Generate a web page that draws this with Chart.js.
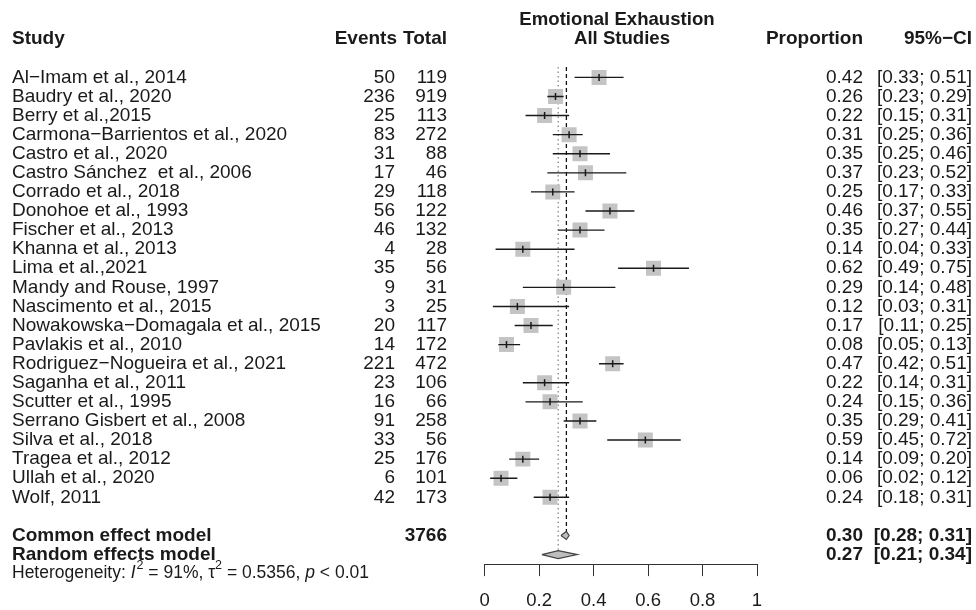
<!DOCTYPE html>
<html>
<head>
<meta charset="utf-8">
<script src="https://cdn.jsdelivr.net/npm/chart.js@4.4.1/dist/chart.umd.min.js"></script>
<style>
  html, body { margin: 0; padding: 0; background: #fff; }
  #wrap { width: 976px; height: 610px; }
</style>
</head>
<body>
<div id="wrap"><canvas id="forest" width="976" height="610"></canvas></div>
<script>
// study rows, top to bottom
var studies = [
    'Al\u2212Imam et al., 2014', 'Baudry et al., 2020', 'Berry et al.,2015',
    'Carmona\u2212Barrientos et al., 2020', 'Castro et al., 2020', 'Castro S\u00e1nchez  et al., 2006',
    'Corrado et al., 2018', 'Donohoe et al., 1993', 'Fischer et al., 2013',
    'Khanna et al., 2013', 'Lima et al.,2021', 'Mandy and Rouse, 1997',
    'Nascimento et al., 2015', 'Nowakowska\u2212Domagala et al., 2015', 'Pavlakis et al., 2010',
    'Rodriguez\u2212Nogueira et al., 2021', 'Saganha et al., 2011', 'Scutter et al., 1995',
    'Serrano Gisbert et al., 2008', 'Silva et al., 2018', 'Tragea et al., 2012',
    'Ullah et al., 2020', 'Wolf, 2011'
];
var events = [50, 236, 25, 83, 31, 17, 29, 56, 46, 4, 35, 9, 3, 20, 14, 221, 23, 16, 91, 33, 25, 6, 42];
var totals = [119, 919, 113, 272, 88, 46, 118, 122, 132, 28, 56, 31, 25, 117, 172, 472, 106, 66, 258, 56, 176, 101, 173];
var props = [0.42, 0.26, 0.22, 0.31, 0.35, 0.37, 0.25, 0.46, 0.35, 0.14, 0.62, 0.29, 0.12, 0.17, 0.08, 0.47, 0.22, 0.24, 0.35, 0.59, 0.14, 0.06, 0.24];
var ciLow = [0.33, 0.23, 0.15, 0.25, 0.25, 0.23, 0.17, 0.37, 0.27, 0.04, 0.49, 0.14, 0.03, 0.11, 0.05, 0.42, 0.14, 0.15, 0.29, 0.45, 0.09, 0.02, 0.18];
var ciHigh = [0.51, 0.29, 0.31, 0.36, 0.46, 0.52, 0.33, 0.55, 0.44, 0.33, 0.75, 0.48, 0.31, 0.25, 0.13, 0.51, 0.31, 0.36, 0.41, 0.72, 0.20, 0.12, 0.31];

// pooled estimates: [estimate, lower, upper]
var commonModel = [0.30, 0.28, 0.31];
var randomModel = [0.27, 0.21, 0.34];
var commonTotal = 3766;
var xTicks = [0, 0.2, 0.4, 0.6, 0.8, 1];
var hetStats = ['91%', '0.5356', '0.01'];

var FONT = "'Liberation Sans', Arial, Helvetica, sans-serif";
var INK = '#1a1a1a';
var FS = 19;
var ROW_COMMON = 24, ROW_RANDOM = 25, ROW_HET = 25.95, ROW_HEAD = -2, ROW_TITLE = -3;

function fmt(v) { return v.toFixed(2); }
function ciText(lo, hi) { return '[' + fmt(lo) + '; ' + fmt(hi) + ']'; }

function diamond(m, row, h) {
    return [
        { x: m[1], y: row }, { x: m[0], y: row - h },
        { x: m[2], y: row }, { x: m[0], y: row + h }, { x: m[1], y: row }
    ];
}

var ciSegments = [];
studies.forEach(function(s, i) {
    ciSegments.push({ x: ciLow[i], y: i }, { x: ciHigh[i], y: i }, { x: null, y: null });
});

var forestText = {
    id: 'forestText',
    afterDraw: function(chart) {
        var ctx = chart.ctx;
        var y = chart.scales.y;
        function put(s, x, row, align, weight, size, style) {
            ctx.font = (style || '') + ' ' + (weight || 'normal') + ' ' + (size || FS) + 'px ' + FONT;
            ctx.textAlign = align;
            ctx.textBaseline = 'middle';
            ctx.fillStyle = INK;
            ctx.fillText(s, x, y.getPixelForValue(row));
            return ctx.measureText(s).width;
        }
        ctx.save();
        put('Study', 12, ROW_HEAD, 'left', 'bold');
        put('Events', 397, ROW_HEAD, 'right', 'bold');
        put('Total', 447, ROW_HEAD, 'right', 'bold');
        put('Emotional Exhaustion', 617, ROW_TITLE, 'center', 'bold', 18.6);
        put('All Studies', 622, ROW_HEAD, 'center', 'bold', 18.6);
        put('Proportion', 863, ROW_HEAD, 'right', 'bold');
        put('95%\u2212CI', 972, ROW_HEAD, 'right', 'bold');

        studies.forEach(function(s, i) {
            put(s, 12, i, 'left');
            put(String(events[i]), 395, i, 'right');
            put(String(totals[i]), 447, i, 'right');
            put(fmt(props[i]), 863, i, 'right');
            put(ciText(ciLow[i], ciHigh[i]), 972, i, 'right');
        });

        put('Common effect model', 12, ROW_COMMON, 'left', 'bold');
        put(String(commonTotal), 447, ROW_COMMON, 'right', 'bold');
        put(fmt(commonModel[0]), 863, ROW_COMMON, 'right', 'bold');
        put(ciText(commonModel[1], commonModel[2]), 972, ROW_COMMON, 'right', 'bold');
        put('Random effects model', 12, ROW_RANDOM, 'left', 'bold');
        put(fmt(randomModel[0]), 863, ROW_RANDOM, 'right', 'bold');
        put(ciText(randomModel[1], randomModel[2]), 972, ROW_RANDOM, 'right', 'bold');

        // heterogeneity line, pieced together for italics and superscripts
        var hx = 12, fs = 17.5;
        hx += put('Heterogeneity: ', hx, ROW_HET, 'left', 'normal', fs);
        hx += put('I', hx, ROW_HET, 'left', 'normal', fs, 'italic');
        hx += put('2', hx + 1, ROW_HET - 0.35, 'left', 'normal', 12.5) + 1;
        hx += put(' = ' + hetStats[0] + ', \u03c4', hx, ROW_HET, 'left', 'normal', fs);
        hx += put('2', hx, ROW_HET - 0.35, 'left', 'normal', 12.5);
        hx += put(' = ' + hetStats[1] + ', ', hx, ROW_HET, 'left', 'normal', fs);
        hx += put('p', hx, ROW_HET, 'left', 'normal', fs, 'italic');
        put(' < ' + hetStats[2], hx, ROW_HET, 'left', 'normal', fs);
        ctx.restore();
    }
};

new Chart(document.getElementById('forest'), {
    type: 'line',
    data: {
        datasets: [
            {
                label: 'CI',
                data: ciSegments,
                borderColor: INK,
                borderWidth: 1.4,
                pointRadius: 0,
                spanGaps: false,
                order: 0
            },
            {
                label: 'Estimate',
                data: props.map(function(p, i) { return { x: p, y: i }; }),
                showLine: false,
                pointStyle: 'line',
                rotation: 90,
                pointRadius: 3.5,
                borderWidth: 1.5,
                borderColor: INK,
                order: 0
            },
            {
                label: 'Weight',
                data: props.map(function(p, i) { return { x: p, y: i }; }),
                showLine: false,
                pointStyle: 'rect',
                pointRadius: 10.6,
                borderWidth: 0,
                backgroundColor: '#c4c4c4',
                order: 2
            },
            {
                label: 'Common diamond',
                data: diamond(commonModel, ROW_COMMON, 0.21),
                borderColor: '#444',
                borderWidth: 1.2,
                backgroundColor: '#bdbdbd',
                fill: 'shape',
                pointRadius: 0,
                order: 1
            },
            {
                label: 'Random diamond',
                data: diamond(randomModel, ROW_RANDOM, 0.21),
                borderColor: '#444',
                borderWidth: 1.2,
                backgroundColor: '#bdbdbd',
                fill: 'shape',
                pointRadius: 0,
                order: 1
            },
            {
                label: 'Common line',
                data: [{ x: commonModel[0], y: -0.55 }, { x: commonModel[0], y: 23.78 }],
                borderColor: '#111',
                borderWidth: 1.3,
                borderDash: [4, 3],
                pointRadius: 0,
                order: 3
            },
            {
                label: 'Random line',
                data: [{ x: randomModel[0], y: -0.55 }, { x: randomModel[0], y: 24.75 }],
                borderColor: '#888',
                borderWidth: 1.3,
                borderDash: [1.5, 3],
                pointRadius: 0,
                order: 3
            }
        ]
    },
    options: {
        responsive: false,
        animation: false,
        events: [],
        layout: { padding: { left: 484.7, right: 219, top: 7.87, bottom: 0 } },
        plugins: { legend: { display: false }, tooltip: { enabled: false } },
        scales: {
            x: {
                type: 'linear',
                min: 0,
                max: 1,
                afterBuildTicks: function(s) { s.ticks = xTicks.map(function(v) { return { value: v }; }); },
                afterFit: function(s) { s.height = 45.9; },
                grid: { drawOnChartArea: false, drawTicks: true, tickLength: 12, color: '#333', lineWidth: 1 },
                border: { display: true, color: '#333', width: 1 },
                ticks: {
                    padding: 14,
                    color: INK,
                    font: { family: FONT, size: 18.5 },
                    maxRotation: 0,
                    callback: function(v) { return String(+v.toFixed(1)); }
                }
            },
            y: {
                type: 'linear',
                display: false,
                reverse: true,
                min: -3.5,
                max: 25.5
            }
        }
    },
    plugins: [forestText]
});
</script>
</body>
</html>
